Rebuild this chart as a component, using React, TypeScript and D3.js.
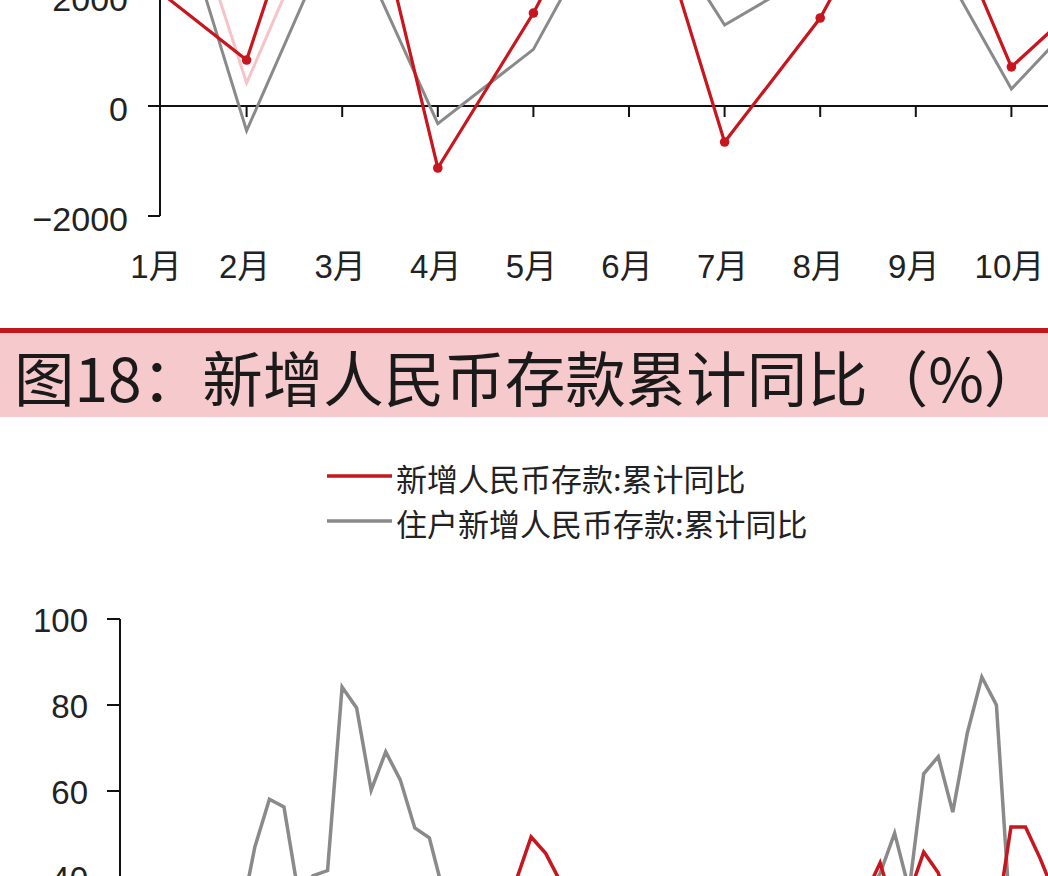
import React from "react";
import * as d3 from "d3";

// ---- Monthly new deposits (upper panel, 亿元) ----
const MONTHS = ["1月", "2月", "3月", "4月", "5月", "6月", "7月", "8月", "9月", "10月", "11月", "12月"];
const newDeposits = [2200, 836, 6100, -1127, 1690, 5000, -655, 1600, 4800, 710, 2300, 1500];
const householdDeposits = [5200, -450, 3500, -320, 1030, 4200, 1473, 2490, 3400, 309, 2150, 3000];
const newDepositsLatest = [5800, 418, 4440];
const upperTicks = [-2000, 0, 2000];

// ---- Cumulative YoY (lower panel, %) ----
const yoyNewDeposits = [
  20, 22, 25, 28, 26, 24, 22, 20, 18, 16, 15, 18, 22, 25, 28, 30, 27, 24, 20, 18, 22, 26, 30, 33, 35, 34, 36,
  39.5, 49.3, 45.5, 39,
  34, 30, 27, 24, 20, 16, 12, 8, 5, 3, 6, 10, 14, 18, 22, 25, 28, 30, 32, 34, 36,
  43.3, 32, 36, 45.8, 41, 30, 26, 24, 29.5, 51.6, 51.6, 44.4, 36, 30,
];
const yoyHouseholdDeposits = [
  12, 18, 25, 20, 15, 22, 28, 33, 30,
  47, 58.1, 56.3, 36, 40.3, 41.5, 84.2, 79.3, 60.2, 69.1, 62.6, 51.4, 49.1,
  36, 30, 26, 22, 18, 15, 12, 10, 14, 18, 22, 25, 20, 16, 12, 8, 5, 10, 15, 20, 24, 28, 30, 26, 22, 25, 28, 31, 33, 35,
  40.8, 50.2, 37, 64, 68, 55.1, 73.5, 86.5, 80, 28, 20, 15, 18, 22,
];
const lowerTicks = [40, 60, 80, 100];

const TITLE = "图18：新增人民币存款累计同比（%）";
const LEGEND = ["新增人民币存款:累计同比", "住户新增人民币存款:累计同比"];

const RED = "#c8161e";
const GRAY = "#8a8a8a";
const PINK = "#f6c3c8";
const INK = "#222";
const NUM_FONT = "'Liberation Sans', Arial, 'Noto Sans CJK SC', sans-serif";
const CJK_FONT = "'Noto Sans CJK SC', 'Noto Sans', sans-serif";

export default function App() {
  const W = 1048;
  const H = 876;

  // upper panel scales
  const ux = d3.scalePoint<string>().domain(MONTHS).range([151, 151 + 95.6 * 11]);
  const uy = d3.scaleLinear().domain([-2000, 2000]).range([216, -4]);
  const uAxisX = 160;
  const uLine = d3
    .line<number>()
    .x((_, i) => ux(MONTHS[i]) as number)
    .y((d) => uy(d));

  // lower panel scales
  const lx = d3
    .scaleLinear()
    .domain([0, yoyNewDeposits.length - 1])
    .range([124, 124 + 14.54 * (yoyNewDeposits.length - 1)]);
  const ly = d3.scaleLinear().domain([40, 100]).range([877, 619]);
  const lAxisX = 120;
  const lLine = d3
    .line<number>()
    .x((_, i) => lx(i))
    .y((d) => ly(d));

  return (
    <svg
      width={W}
      height={H}
      viewBox={`0 0 ${W} ${H}`}
      style={{ position: "absolute", left: 0, top: 0, background: "#fff" }}
    >
      <rect x={0} y={0} width={W} height={H} fill="#fff" />

      {/* ===== upper panel ===== */}
      <g>
        <line x1={uAxisX} x2={uAxisX} y1={uy(2000) - 20} y2={uy(-2000)} stroke="#111" strokeWidth={2} />
        {upperTicks.map((t) => (
          <g key={t}>
            <line x1={uAxisX - 12} x2={uAxisX} y1={uy(t)} y2={uy(t)} stroke="#111" strokeWidth={2} />
            <text
              x={128}
              y={uy(t) + 3}
              textAnchor="end"
              dominantBaseline="central"
              fontFamily={NUM_FONT}
              fontSize={34}
              fill={INK}
            >
              {t < 0 ? `−${Math.abs(t)}` : t}
            </text>
          </g>
        ))}
        <line x1={uAxisX - 12} x2={W} y1={uy(0)} y2={uy(0)} stroke="#111" strokeWidth={2} />
        {MONTHS.filter((m) => (ux(m) as number) < W - 20).map((m) => {
          const x = ux(m) as number;
          return (
            <g key={m}>
              {x > uAxisX + 2 && (
                <line x1={x} x2={x} y1={uy(0)} y2={uy(0) + 11} stroke="#111" strokeWidth={2} />
              )}
              <text
                x={x + (x < uAxisX ? 5 : -2)}
                y={266}
                textAnchor="middle"
                dominantBaseline="central"
                fontFamily={NUM_FONT}
                fontSize={33}
                fill={INK}
              >
                {m}
              </text>
            </g>
          );
        })}

        <path d={uLine(newDepositsLatest) || ""} fill="none" stroke={PINK} strokeWidth={3} />
        <path d={uLine(householdDeposits) || ""} fill="none" stroke={GRAY} strokeWidth={3} />
        <path d={uLine(newDeposits) || ""} fill="none" stroke={RED} strokeWidth={3.2} />
        {newDeposits.map((v, i) => (
          <circle key={i} cx={ux(MONTHS[i]) as number} cy={uy(v)} r={4.8} fill={RED} />
        ))}
      </g>

      {/* ===== title band ===== */}
      <rect x={0} y={328} width={W} height={5} fill="#c0161c" />
      <rect x={0} y={333} width={W} height={84} fill="#f6c9cc" />
      <text x={14} y={402} fontFamily={CJK_FONT} fontSize={60.5} fill="#1a1a1a">
        {TITLE}
      </text>

      {/* ===== legend ===== */}
      {LEGEND.map((label, i) => {
        const y = 476 + i * 45;
        return (
          <g key={label}>
            <line x1={327} x2={392} y1={y} y2={y} stroke={i === 0 ? RED : GRAY} strokeWidth={3.5} />
            <text x={396} y={y + 1} dominantBaseline="central" fontFamily={CJK_FONT} fontSize={31} fill={INK}>
              {label}
            </text>
          </g>
        );
      })}

      {/* ===== lower panel ===== */}
      <g>
        <line x1={lAxisX} x2={lAxisX} y1={ly(100)} y2={H + 40} stroke="#111" strokeWidth={2} />
        {lowerTicks.map((t) => (
          <g key={t}>
            <line x1={lAxisX - 13} x2={lAxisX} y1={ly(t)} y2={ly(t)} stroke="#111" strokeWidth={2} />
            <text
              x={88}
              y={ly(t) + 1}
              textAnchor="end"
              dominantBaseline="central"
              fontFamily={NUM_FONT}
              fontSize={33}
              fill={INK}
            >
              {t}
            </text>
          </g>
        ))}
        <path d={lLine(yoyHouseholdDeposits) || ""} fill="none" stroke={GRAY} strokeWidth={3.5} />
        <path d={lLine(yoyNewDeposits) || ""} fill="none" stroke={RED} strokeWidth={3.5} />
      </g>
    </svg>
  );
}
